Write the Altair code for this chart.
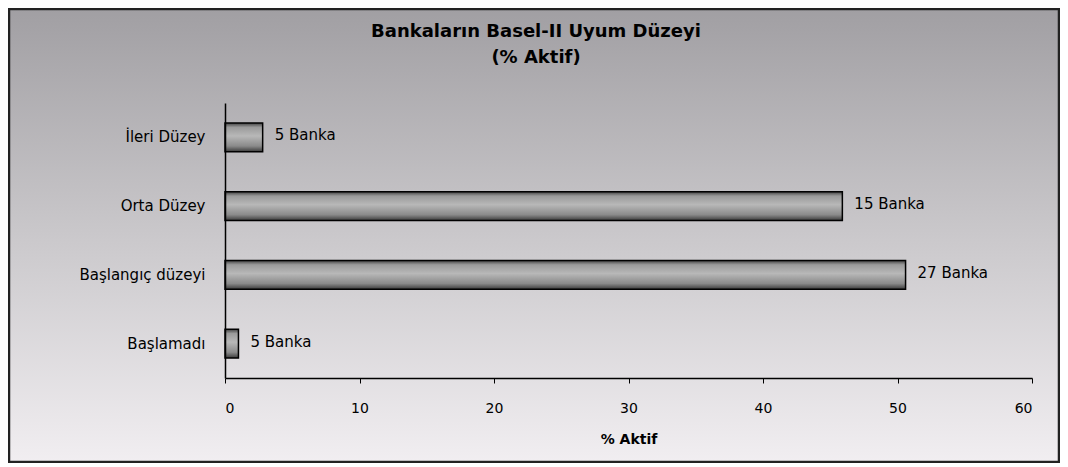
import altair as alt
import pandas as pd

categories = ["İleri Düzey", "Orta Düzey", "Başlangıç düzeyi", "Başlamadı"]
values = [2.8, 45.9, 50.6, 1.0]
bar_labels = ["5 Banka", "15 Banka", "27 Banka", "5 Banka"]
x_ticks = [0, 10, 20, 30, 40, 50, 60]
title_lines = ["Bankaların Basel-II Uyum Düzeyi", "(% Aktif)"]

df = pd.DataFrame({"cat": categories, "val": values, "lab": bar_labels})

W, H = 807, 275
PL, PT, PR, PB = 217, 95, 28, 85

bg = alt.Chart(alt.Data(values=[{}])).mark_rect(
    color=alt.Gradient(
        gradient="linear", x1=0, y1=0, x2=0, y2=1,
        stops=[alt.GradientStop(color="#a19fa3", offset=0),
               alt.GradientStop(color="#cac8cb", offset=0.5),
               alt.GradientStop(color="#f1eef1", offset=1)]),
    stroke="#222222", strokeWidth=2.5,
).encode(
    x=alt.value(-PL + 1), x2=alt.value(W + PR - 1),
    y=alt.value(-PT + 1), y2=alt.value(H + PB - 1),
)

title_df = pd.DataFrame({"t": title_lines, "yy": [-71, -45]})
title = alt.Chart(title_df).mark_text(
    font="DejaVu Sans", fontSize=18, fontWeight="bold", color="black",
    align="center", baseline="middle",
).encode(x=alt.value(311), y=alt.Y("yy:Q", scale=None), text="t:N")

y_enc = alt.Y("cat:N", sort=categories, title=None,
              scale=alt.Scale(paddingInner=0.58, paddingOuter=0.29),
              axis=alt.Axis(labelFont="DejaVu Sans", labelFontSize=15, labelColor="black",
                            labelPadding=20, ticks=False, domainColor="black", domainWidth=1.5,
                            zindex=2))
x_enc = alt.X("val:Q", title="% Aktif",
              scale=alt.Scale(domain=[0, 60], nice=False),
              axis=alt.Axis(values=x_ticks, grid=False, labelFont="DejaVu Sans", labelFontSize=14,
                            labelColor="black", tickColor="black", tickSize=5, labelPadding=18,
                            domainColor="black", domainWidth=1.5, titleFont="DejaVu Sans",
                            titleFontSize=14, titleFontWeight="bold", titleColor="black",
                            titlePadding=17, zindex=2))

bars = alt.Chart(df).mark_bar(
    color=alt.Gradient(
        gradient="linear", x1=0, y1=0, x2=0, y2=1,
        stops=[alt.GradientStop(color="#404040", offset=0),
               alt.GradientStop(color="#9a9a9a", offset=0.15),
               alt.GradientStop(color="#b8b8b8", offset=0.45),
               alt.GradientStop(color="#8a8a8a", offset=0.8),
               alt.GradientStop(color="#3a3a3a", offset=1)]),
    stroke="black", strokeWidth=1.5,
).encode(x=x_enc, y=y_enc)

texts = alt.Chart(df).mark_text(
    align="left", baseline="middle", dx=12, dy=-2, font="DejaVu Sans", fontSize=15, color="black"
).encode(x="val:Q", y=alt.Y("cat:N", sort=categories), text="lab:N")

chart = alt.layer(bg, bars, texts, title).properties(
    width=W, height=H,
    padding={"left": PL, "top": PT, "right": PR, "bottom": PB},
    autosize=alt.AutoSizeParams(type="none"),
).configure_view(stroke=None).configure(background="white")

chart.save("out.html", embed_options={"renderer": "svg", "actions": False})
